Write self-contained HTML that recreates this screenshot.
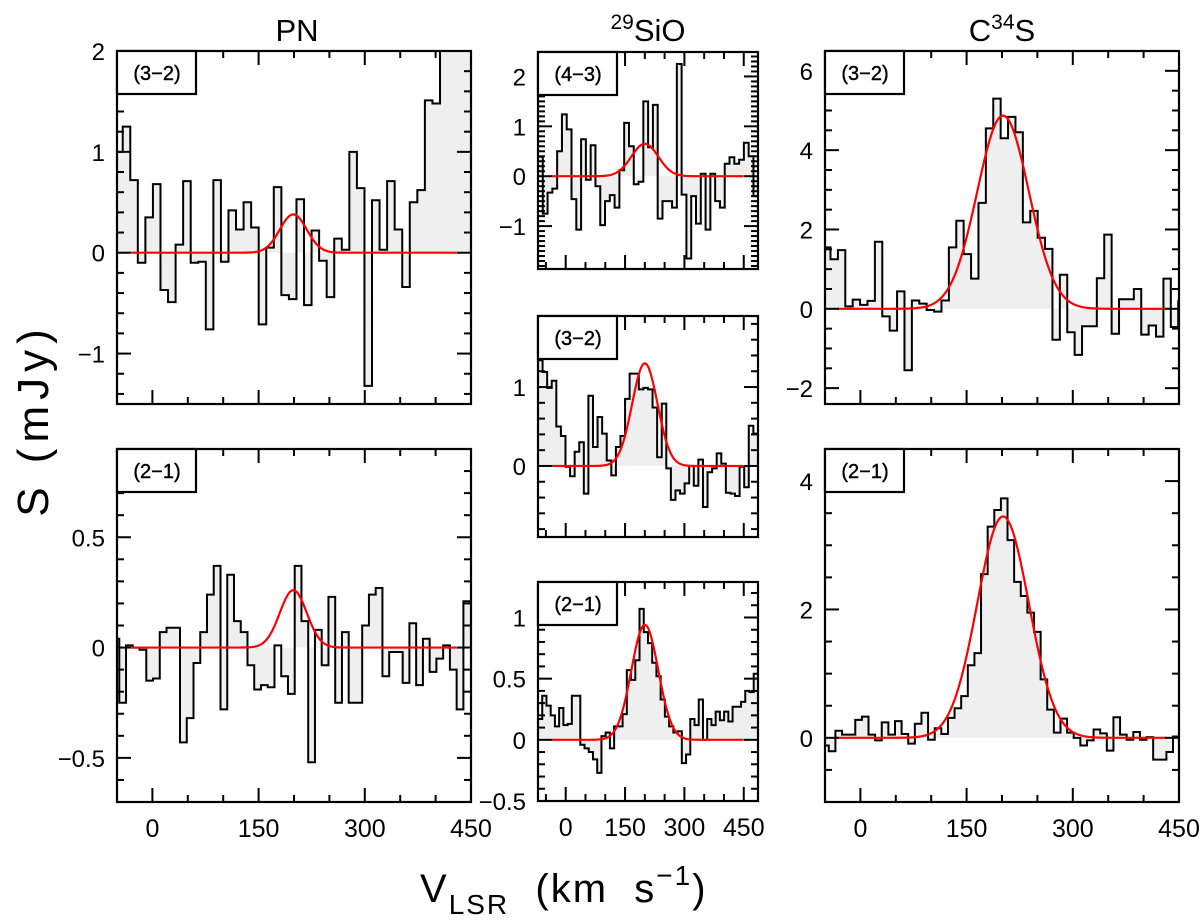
<!DOCTYPE html>
<html><head><meta charset="utf-8"><style>
html,body{margin:0;padding:0;background:#fff;}
svg{display:block;font-family:"Liberation Sans",sans-serif;}
</style></head><body>
<svg id="chart" width="1200" height="923" viewBox="0 0 1200 923" xmlns="http://www.w3.org/2000/svg">
<rect x="0" y="0" width="1200" height="923" fill="#fff"/>
<text x="297" y="41" font-size="31" text-anchor="middle">PN</text>
<text x="648" y="41" font-size="31" text-anchor="middle"><tspan font-size="21" dy="-12">29</tspan><tspan dy="12">SiO</tspan></text>
<text x="1002" y="41" font-size="31" text-anchor="middle">C<tspan font-size="21" dy="-12">34</tspan><tspan dy="12">S</tspan></text>
<text transform="translate(48,420) rotate(-90)" font-size="44" text-anchor="middle" letter-spacing="6" xml:space="preserve">S (mJy)</text>
<text x="420" y="902" font-size="40" letter-spacing="2" xml:space="preserve">V<tspan font-size="28" dy="12">LSR</tspan><tspan dy="-12">  (km  s</tspan><tspan font-size="28" dy="-17">−1</tspan><tspan dy="17">)</tspan></text>
<g id="panels"></g>
</svg>
<script>
// ---- data: PN (3-2)
const pn32Values = [1.0,1.25,0.72,-0.1,0.35,0.68,-0.37,-0.49,0.08,0.71,-0.1,-0.09,-0.76,0.72,-0.09,0.42,0.23,0.5,0.25,-0.71,0.05,0.65,-0.42,-0.46,0.53,-0.52,0.22,-0.08,-0.44,0.14,0.03,1.0,0.64,-1.32,0.52,0.03,0.71,0.23,-0.34,0.5,0.62,1.51,1.48,2.3,2.3,2.3,2.3,2.3];
const pn32Fit = [0.38, 199, 19];
const pn32YLabels = [2, 1, 0, -1];
// ---- data: PN (2-1)
const pn21Values = [0.04,-0.25,0.01,0,-0.01,-0.15,-0.14,0.07,0.09,0.09,-0.43,-0.32,-0.07,0.07,0.24,0.37,-0.28,0.33,0.12,0.07,-0.08,-0.19,-0.17,-0.18,0.01,-0.13,-0.21,0.37,0.12,-0.52,0.08,-0.08,0.23,-0.25,0.07,-0.25,-0.25,0.10,0.24,0.27,-0.13,-0.02,-0.02,-0.16,0.11,-0.17,0.04,-0.11,-0.05,0.01,-0.10,-0.28,0.21];
const pn21Fit = [0.26, 199, 19];
const pn21YLabels = [0.5, 0, -0.5];
// ---- data: 29SiO (4-3)
const sio43Values = [0.39,-0.75,-0.33,-0.25,0.5,1.24,0.94,-0.46,-1.07,0.74,-0.07,0.62,-0.2,-0.98,-0.5,-0.38,-0.63,0.12,1.07,0.6,-0.16,-0.11,1.5,0.58,1.43,-0.85,-0.5,-0.5,-0.63,2.25,-0.37,-1.65,-0.4,-0.95,0.05,-1.07,0.05,-0.5,-0.63,0.25,0.38,0.25,0.33,0.67,0.4,-0.4];
const sio43Fit = [0.65, 200, 34];
const sio43YLabels = [2, 1, 0, -1];
// ---- data: 29SiO (3-2)
const sio32Values = [1.34,1.19,0.99,1.08,0.50,0.38,-0.01,-0.13,0.18,0.30,-0.35,0.89,0.24,0.62,0.41,0.07,-0.12,0.24,0.38,0.85,1.17,1.17,0.97,0.99,0.97,0.74,0.11,0.79,-0.03,-0.43,-0.31,-0.35,-0.22,0,-0.25,0.08,-0.52,-0.08,-0.03,0.16,0.03,-0.34,-0.35,-0.38,-0.01,-0.27,0.51,0.41];
const sio32Fit = [1.3, 200, 32];
const sio32YLabels = [1, 0];
// ---- data: 29SiO (2-1)
const sio21Values = [0.17,0.36,0.28,0.2,0.11,0.26,0.12,0.13,0.36,0.36,-0.04,-0.07,-0.1,-0.16,-0.27,0.03,0.06,-0.07,0.11,0.11,0.21,0.57,0.49,0.65,1.07,0.88,0.79,0.63,0.52,0.33,0.19,0.11,0.06,0.07,-0.19,-0.12,0.17,0.12,0.33,0,0.17,0.12,0.23,0.16,0.23,0.15,0.27,0.27,0.31,0.4,0.39,0.54];
const sio21Fit = [0.94, 200, 34];
const sio21YLabels = [1, 0.5, 0, -0.5];
// ---- data: C34S (3-2)
const cs32Values = [1.55,1.25,1.48,0.06,0.23,0.1,0.2,1.69,-0.19,-0.55,0.44,-1.55,0.21,0.13,-0.03,-0.07,0.21,1.55,2.22,1.38,0.76,2.67,4.55,5.3,4.3,4.84,4.45,2.18,2.47,1.79,1.51,-0.78,0.86,-0.59,-1.16,-0.44,-0.44,0.77,1.87,-0.63,0.24,0.24,0.5,-0.65,-0.42,-0.7,0.76,-0.46,0.19];
const cs32Fit = [4.87, 201.5, 36.5];
const cs32YLabels = [6, 4, 2, 0, -2];
// ---- data: C34S (2-1)
const cs21Values = [-0.12,-0.21,0.11,0.05,0.05,0.28,0.33,0.05,-0.04,0.24,0.05,0.26,0.06,-0.09,0.22,0.39,-0.03,0.15,0.06,0.31,0.46,0.65,1.13,1.32,2.55,3.29,3.55,3.73,3.08,2.43,2.21,1.95,1.65,0.91,0.44,0.08,0.3,0.08,0,-0.12,-0.04,0.13,0.07,-0.2,0.32,0.05,-0.03,0.09,-0.03,0.01,-0.34,-0.34,-0.22,0.02];
const cs21Fit = [3.45, 201.5, 36.5];
const cs21YLabels = [4, 2, 0];
const xTickLabels = [0, 150, 300, 450];

const NS = "http://www.w3.org/2000/svg";
const root = document.getElementById('panels');
function mk(tag, attrs, parent) {
  const e = document.createElementNS(NS, tag);
  for (const k in attrs) e.setAttribute(k, attrs[k]);
  (parent || root).appendChild(e);
  return e;
}
function fmt(v) { return (v < 0 ? "−" : "") + String(Math.abs(v)); }

const panels = [
  {id:"pn-3-2", label:"(3−2)", x:117, y:51, w:354, h:353, vmin:-50, vmax:450, ymin:-1.5, ymax:2, vals:pn32Values, v0:-52.6, dv:10.67, fit:pn32Fit, fitR:[-30,430], yMinor:0.2, yMajor:1, yl:pn32YLabels, xl:false},
  {id:"pn-2-1", label:"(2−1)", x:117, y:449, w:354, h:353, vmin:-50, vmax:450, ymin:-0.7, ymax:0.9, vals:pn21Values, v0:-56.3, dv:9.53, fit:pn21Fit, fitR:[-30,430], yMinor:0.1, yMajor:0.5, yl:pn21YLabels, xl:true},
  {id:"sio-4-3", label:"(4−3)", x:538, y:52, w:220, h:217, vmin:-70, vmax:486, ymin:-1.86, ymax:2.49, vals:sio43Values, v0:-70, dv:12.1, fit:sio43Fit, fitR:[-35,450], yMinor:0.1, yMajor:1, yl:sio43YLabels, xl:false},
  {id:"sio-3-2", label:"(3−2)", x:538, y:316, w:220, h:221, vmin:-70, vmax:486, ymin:-0.9, ymax:1.9, vals:sio32Values, v0:-70, dv:11.58, fit:sio32Fit, fitR:[-35,450], yMinor:0.2, yMajor:1, yl:sio32YLabels, xl:false},
  {id:"sio-2-1", label:"(2−1)", x:538, y:582, w:220, h:219, vmin:-70, vmax:486, ymin:-0.5, ymax:1.29, vals:sio21Values, v0:-70, dv:10.69, fit:sio21Fit, fitR:[-35,450], yMinor:0.1, yMajor:0.5, yl:sio21YLabels, xl:true},
  {id:"cs-3-2", label:"(3−2)", x:825, y:51, w:354, h:353, vmin:-50, vmax:450, ymin:-2.4, ymax:6.5, vals:cs32Values, v0:-52.7, dv:10.45, fit:cs32Fit, fitR:[-33,433], yMinor:0.5, yMajor:2, yl:cs32YLabels, xl:false},
  {id:"cs-2-1", label:"(2−1)", x:825, y:449, w:354, h:353, vmin:-50, vmax:450, ymin:-1.0, ymax:4.5, vals:cs21Values, v0:-54, dv:9.35, fit:cs21Fit, fitR:[-33,433], yMinor:0.5, yMajor:2, yl:cs21YLabels, xl:true}
];

panels.forEach(p => {
  const xs = v => p.x + (v - p.vmin) / (p.vmax - p.vmin) * p.w;
  const ys = s => p.y + (p.ymax - s) / (p.ymax - p.ymin) * p.h;
  const g = mk('g', {});
  
  
  const cp = mk('clipPath', {id:'clip-' + p.id}, g);
  mk('rect', {x:p.x, y:p.y, width:p.w, height:p.h}, cp);
  const inner = mk('g', {'clip-path':'url(#clip-' + p.id + ')'}, g);
  const y0 = ys(0);
  let d = 'M' + xs(p.v0) + ' ' + y0;
  let line = '';
  p.vals.forEach((val, i) => {
    const xa = xs(p.v0 + i * p.dv), xb = xs(p.v0 + (i + 1) * p.dv), yy = ys(val);
    d += ' L' + xa + ' ' + yy + ' L' + xb + ' ' + yy;
    line += (i === 0 ? 'M' : ' L') + xa + ' ' + yy + ' L' + xb + ' ' + yy;
  });
  d += ' L' + xs(p.v0 + p.vals.length * p.dv) + ' ' + y0 + ' Z';
  const fill = mk('path', {d:d, fill:'#efefef', stroke:'none'}, inner);
  
  
  const st = mk('path', {d:line, fill:'none', stroke:'#000', 'stroke-width':2}, inner);
  
  
  let fd = '';
  const [A, c, s] = p.fit;
  for (let k = 0; k <= 300; k++) {
    const v = p.fitR[0] + (p.fitR[1] - p.fitR[0]) * k / 300;
    const val = A * Math.exp(-0.5 * Math.pow((v - c) / s, 2));
    fd += (k ? ' L' : 'M') + xs(v).toFixed(2) + ' ' + ys(val).toFixed(2);
  }
  const fit = mk('path', {d:fd, fill:'none', stroke:'#ff0000', 'stroke-width':2.2}, inner);
  
  
  const tk = mk('g', {stroke:'#000', 'stroke-width':2}, g);
  for (let v = Math.ceil(p.vmin / 50) * 50; v <= p.vmax + 0.01; v += 50) {
    const L = (Math.round(v) % 150 === 0) ? 14 : 7;
    const x = xs(v);
    mk('line', {x1:x, x2:x, y1:p.y + p.h, y2:p.y + p.h - L}, tk);
    mk('line', {x1:x, x2:x, y1:p.y, y2:p.y + L}, tk);
  }
  const nmin = Math.ceil(p.ymin / p.yMinor - 1e-6), nmax = Math.floor(p.ymax / p.yMinor + 1e-6);
  for (let n = nmin; n <= nmax; n++) {
    const val = n * p.yMinor;
    const r = val / p.yMajor;
    const L = Math.abs(r - Math.round(r)) < 1e-6 ? 14 : 7;
    const y = ys(val);
    mk('line', {x1:p.x, x2:p.x + L, y1:y, y2:y}, tk);
    mk('line', {x1:p.x + p.w, x2:p.x + p.w - L, y1:y, y2:y}, tk);
  }
  const fr = mk('rect', {x:p.x, y:p.y, width:p.w, height:p.h, fill:'none', stroke:'#000', 'stroke-width':2.2}, g);
  
  
  const bx = mk('rect', {x:p.x, y:p.y, width:79, height:43, fill:'#fff', stroke:'#000', 'stroke-width':2.2}, g);
  
  
  const bt = mk('text', {x:p.x + 40, y:p.y + 29, 'font-size':20, 'text-anchor':'middle', stroke:'#000', 'stroke-width':0.4}, g);
  bt.textContent = p.label;
  
  
  p.yl.forEach(v => {
    const t = mk('text', {x:p.x - 12, y:ys(v) + 9, 'font-size':24, 'text-anchor':'end'}, g);
    t.textContent = fmt(v);
    
    
  });
  if (p.xl) {
    xTickLabels.forEach(v => {
      const t = mk('text', {x:xs(v), y:p.y + p.h + 35, 'font-size':25, 'text-anchor':'middle'}, g);
      t.textContent = fmt(v);
      
      
    });
  }
});
</script>
</body></html>
